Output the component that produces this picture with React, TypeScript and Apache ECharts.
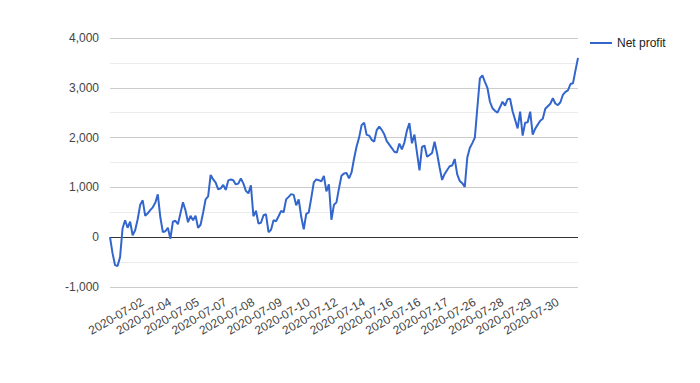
import React, { useEffect, useRef } from "react";
import * as echarts from "echarts";

const netProfit: number[] = [
  0, -320, -560, -580, -400, 180, 340, 190, 310, 40,
  140, 360, 650, 740, 430, 480, 545, 600, 690, 860,
  400, 105, 120, 190, -30, 310, 330, 260, 480, 700,
  540, 300, 430, 340, 430, 190, 250, 490, 760, 820,
  1250, 1160, 1095, 960, 980, 1050, 950, 1140, 1160, 1145,
  1060, 1075, 1180, 1080, 930, 880, 1040, 420, 530, 275,
  290, 440, 460, 100, 150, 340, 320, 420, 530, 500,
  760, 810, 865, 850, 640, 760, 410, 160, 470, 500,
  790, 1100, 1160, 1145, 1120, 1230, 920, 1060, 350, 650,
  700, 980, 1235, 1280, 1290, 1180, 1300, 1580, 1820, 2000,
  2250, 2300, 2055, 2040, 1955, 1920, 2150, 2220, 2155, 2065,
  1930, 1860, 1790, 1715, 1700, 1880, 1765, 1900, 2140, 2290,
  1885, 2060, 1700, 1340, 1815, 1840, 1615, 1650, 1690, 1915,
  1680, 1400, 1150, 1270, 1350, 1425, 1440, 1570, 1260, 1130,
  1085, 1010, 1600, 1790, 1890, 2000, 2600, 3190, 3250, 3120,
  3000, 2720, 2590, 2540, 2500, 2610, 2720, 2640, 2770, 2780,
  2530, 2360, 2185, 2520, 2040, 2300, 2310, 2520, 2060, 2180,
  2260, 2340, 2380, 2580, 2630, 2680, 2790, 2685, 2650, 2710,
  2860, 2920, 2950, 3075, 3090, 3350, 3600,
];

const tradeIndex: string[] = netProfit.map((_, i) => String(i + 1));

const tickIndices: number[] = [13, 24, 35, 46, 57, 68, 79, 90, 101, 112, 123, 134, 145, 156, 167, 178];
const tickLabels: string[] = [
  "2020-07-02", "2020-07-04", "2020-07-05", "2020-07-07", "2020-07-08", "2020-07-09",
  "2020-07-10", "2020-07-12", "2020-07-14", "2020-07-16", "2020-07-16", "2020-07-17",
  "2020-07-26", "2020-07-28", "2020-07-29", "2020-07-30",
];

const FONT = "'Liberation Sans', Arial, sans-serif";

export default function App() {
  const ref = useRef<HTMLDivElement>(null);
  useEffect(() => {
    if (!ref.current) return;
    const chart = echarts.init(ref.current, undefined, { renderer: "svg" });
    chart.setOption({
      animation: false,
      backgroundColor: "#ffffff",
      textStyle: { fontFamily: FONT },
      grid: { left: 110, right: 122, top: 38, bottom: 96, containLabel: false },
      legend: {
        data: ["Net profit"],
        left: 590,
        top: 37,
        padding: 0,
        icon: "rect",
        itemWidth: 22,
        itemHeight: 2,
        itemGap: 5,
        textStyle: { color: "#222", fontSize: 12, fontFamily: FONT },
      },
      xAxis: {
        type: "category",
        data: tradeIndex,
        boundaryGap: false,
        axisLine: { show: false },
        axisTick: { show: false },
        splitLine: { show: false },
        axisLabel: {
          interval: (i: number) => tickIndices.includes(i),
          formatter: (_v: string, i: number) => tickLabels[tickIndices.indexOf(i)] ?? "",
          rotate: 30,
          margin: 14,
          color: "#444",
          fontSize: 12,
          fontFamily: FONT,
        },
      },
      yAxis: {
        type: "value",
        min: -1000,
        max: 4000,
        interval: 1000,
        axisLine: { show: false },
        axisTick: { show: false },
        axisLabel: {
          color: "#444",
          fontSize: 12,
          margin: 11,
          fontFamily: FONT,
          formatter: (v: number) => v.toLocaleString("en-US"),
        },
        splitLine: {
          show: true,
          lineStyle: { color: ["#cccccc", "#333333", "#cccccc", "#cccccc", "#cccccc", "#cccccc"], width: 1 },
        },
        minorTick: { show: false, splitNumber: 2 },
        minorSplitLine: { show: true, lineStyle: { color: "#ebebeb", width: 1 } },
      },
      series: [
        {
          name: "Net profit",
          type: "line",
          data: netProfit,
          showSymbol: false,
          symbol: "none",
          lineStyle: { color: "#3366cc", width: 2 },
          itemStyle: { color: "#3366cc" },
        },
      ],
    });
    return () => chart.dispose();
  }, []);
  return <div ref={ref} style={{ position: "absolute", left: 0, top: 0, width: 700, height: 383 }} />;
}
